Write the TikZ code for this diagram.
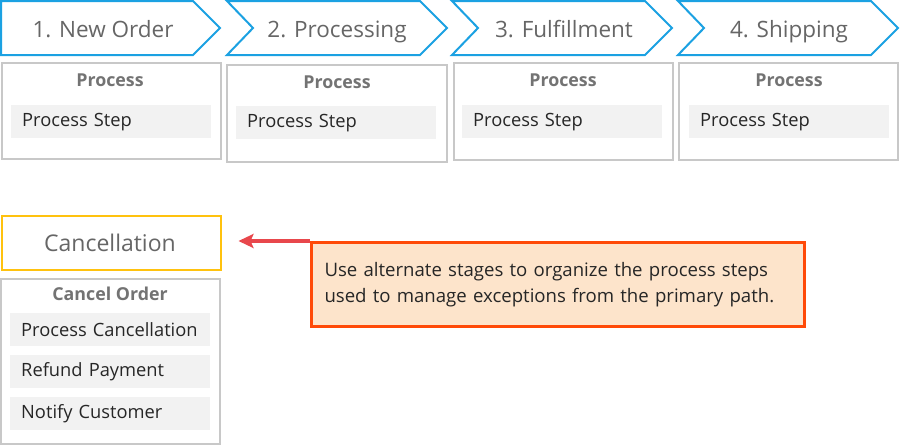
\documentclass[tikz,border=0pt]{standalone}
\usepackage{fontspec}
\setmainfont{Open Sans}
\usetikzlibrary{arrows.meta,calc}
\definecolor{chevblue}{HTML}{1BA1E2}
\definecolor{chevtext}{HTML}{666666}
\definecolor{boxgray}{HTML}{C8C8C8}
\definecolor{stepfill}{HTML}{F2F2F2}
\definecolor{titlegray}{HTML}{737373}
\definecolor{steptextc}{HTML}{262626}
\definecolor{cancelborder}{HTML}{FFC20E}
\definecolor{calloutfill}{HTML}{FDE4CB}
\definecolor{calloutborder}{HTML}{FF4A08}
\definecolor{arrowred}{HTML}{E8474C}
\tikzset{
  chev/.style={draw=chevblue, line width=2pt, line join=miter, fill=white},
  chevlabel/.style={text=chevtext, font=\fontsize{22.5}{27}\selectfont, inner sep=0pt, anchor=base},
  stagebox/.style={draw=boxgray, line width=1.3pt, fill=white},
  steptitle/.style={text=titlegray, font=\fontsize{17.8}{21}\selectfont\bfseries, inner sep=0pt, anchor=base},
  stepbox/.style={fill=stepfill, draw=none, minimum width=200pt, minimum height=33pt, inner xsep=11pt, text width=178pt, align=left, text=steptextc, font=\fontsize{18.3}{22}\selectfont, anchor=north west},
  cancelbox/.style={draw=cancelborder, line width=1.5pt, fill=white, minimum width=219pt, minimum height=54pt, anchor=north west},
  cancellabel/.style={text=chevtext, font=\fontsize{23}{27}\selectfont, inner sep=0pt, anchor=base},
  callout/.style={draw=calloutborder, line width=3pt, fill=calloutfill, minimum width=493pt, minimum height=84pt, inner xsep=13pt, text width=467pt, align=left, text=steptextc, font=\fontsize{18.6}{26}\selectfont, anchor=north west},
  pointer/.style={draw=arrowred, line width=3.5pt, -{Stealth[length=15pt,width=14pt,inset=3pt]}}
}
\begin{document}
\begin{tikzpicture}[x=1pt,y=-1pt]
\useasboundingbox (0,0) rectangle (901,445);
% chevrons
\draw[chev] (1,1) -- (193,1) -- (220,28) -- (193,55) -- (1,55) -- cycle;
\foreach \L in {227,452,678}{
  \draw[chev] (\L,1) -- ({\L+193},1) -- ({\L+220},28) -- ({\L+193},55) -- (\L,55) -- ({\L+26},28) -- cycle;
}
\node[chevlabel] (c1) at (103,37) {1. New Order};
\node[chevlabel] (c2) at (337,37) {2. Processing};
\node[chevlabel] (c3) at (564,37) {3. Fulfillment};
\node[chevlabel] (c4) at (789,37) {4. Shipping};
% stage boxes
\draw[stagebox] (2,63) rectangle (221,159);
\draw[stagebox] (227,65) rectangle (447,162);
\draw[stagebox] (454,63) rectangle (673,160);
\draw[stagebox] (679,63) rectangle (898,160);
\node[steptitle] (t1) at (110,86) {Process};
\node[steptitle] (t2) at (337,88) {Process};
\node[steptitle] (t3) at (563,86) {Process};
\node[steptitle] (t4) at (789,86) {Process};
\node[stepbox] (s1) at (11,105) {Process Step};
\node[stepbox] (s2) at (236,106) {Process Step};
\node[stepbox] (s3) at (462,105) {Process Step};
\node[stepbox] (s4) at (689,105) {Process Step};
% cancellation
\node[cancelbox] (canc) at (1,215) {};
\node[cancellabel] (canct) at (110,251) {Cancellation};
\draw[stagebox] (1,279) rectangle (220,444);
\node[steptitle] (ct) at (110,300) {Cancel Order};
\node[stepbox] (p1) at (10,313) {\mbox{Process Cancellation}};
\node[stepbox] (p2) at (10,355) {Refund Payment};
\node[stepbox] (p3) at (10,397) {Notify Customer};
% callout
\node[callout] (note) at (310,241) {\rule{0pt}{14pt}Use alternate stages to organize the process steps\\used to manage exceptions from the primary path.};
\coordinate (tip) at ($(canc.east)+(17,0)$);
\draw[pointer] (note.north west) -- (note.north west -| tip);
\end{tikzpicture}
\end{document}
